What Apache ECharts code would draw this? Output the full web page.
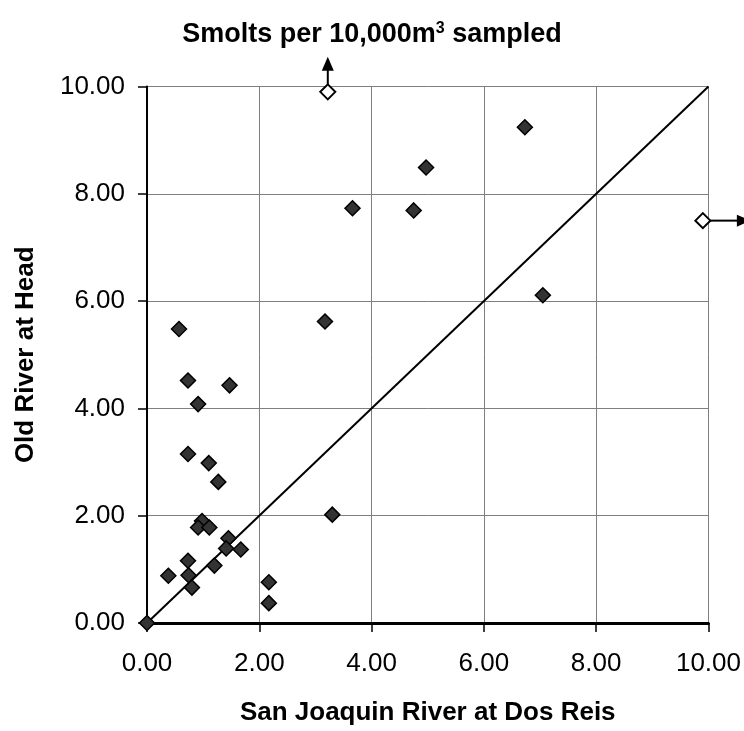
<!DOCTYPE html>
<html>
<head>
<meta charset="utf-8">
<script src="https://cdn.jsdelivr.net/npm/echarts@6/dist/echarts.min.js"></script>
<style>html,body{margin:0;padding:0;background:#fff;}#c{width:744px;height:731px;}</style>
</head>
<body>
<div id="c"></div>
<script>
// San Joaquin River at Dos Reis (x) vs Old River at Head (y)
var pointsX = [0.57,0.73,1.47,0.91,0.73,1.10,1.27,0.98,0.91,1.11,1.45,1.41,1.67,0.73,1.20,0.38,0.74,0.80,2.17,2.17,0.00,3.17,3.30,4.97,3.66,4.75,6.73,7.05];
var pointsY = [5.48,4.52,4.43,4.08,3.15,2.98,2.63,1.90,1.78,1.78,1.58,1.39,1.37,1.16,1.07,0.88,0.89,0.66,0.76,0.37,0.00,5.62,2.02,8.49,7.73,7.69,9.24,6.11];
// off-scale points (drawn at the edge with arrows)
var openX = [3.22, 9.90];
var openY = [9.90, 7.50];
var openDir = ['up', 'right'];
// 1:1 line
var refLineX = [0, 10];
var refLineY = [0, 10];
var tickValues = [0, 2, 4, 6, 8, 10];

var scatterData = pointsX.map(function(x, i){ return [x, pointsY[i]]; });
var openData = openX.map(function(x, i){ return [x, openY[i], openDir[i]]; });
var lineData = refLineX.map(function(x, i){ return [x, refLineY[i]]; });

var chart = echarts.init(document.getElementById('c'), null, {renderer: 'canvas'});
var FONT = 'Arial, "Liberation Sans", sans-serif';

function axisCommon(name){
  return {
    type: 'value', min: tickValues[0], max: tickValues[tickValues.length-1], interval: 2,
    name: name, nameLocation: 'middle',
    nameTextStyle: {fontFamily: FONT, fontSize: 26, fontWeight: 'bold', color: '#000'},
    axisLine: {show: true, onZero: false, lineStyle: {color: '#000', width: 2.5}},
    axisTick: {show: true, inside: false, length: 9, lineStyle: {color: '#000', width: 1.5}},
    axisLabel: {fontFamily: FONT, fontSize: 26, color: '#000', formatter: function(v){ return v.toFixed(2); }},
    splitLine: {show: true, lineStyle: {color: '#7f7f7f', width: 1}}
  };
}
var xAx = axisCommon('San Joaquin River at Dos Reis');
xAx.nameGap = 77; xAx.axisLabel.margin = 28; xAx.axisLine.lineStyle.width = 3;
var yAx = axisCommon('Old River at Head');
yAx.nameGap = 108; yAx.axisLabel.margin = 22; yAx.axisLine.lineStyle.width = 2;

chart.setOption({
  animation: false,
  backgroundColor: '#fff',
  title: {
    text: '{a|Smolts per 10,000m}{s|3}{a| sampled}',
    left: 'center', top: 16,
    textStyle: {
      rich: {
        a: {fontFamily: FONT, fontSize: 27, fontWeight: 'bold', color: '#000'},
        s: {fontFamily: FONT, fontSize: 16, fontWeight: 'bold', color: '#000', padding: [0, 0, 12, 0]}
      }
    }
  },
  grid: {left: 147, right: 34, top: 86.5, bottom: 101, containLabel: false},
  xAxis: xAx,
  yAxis: yAx,
  series: [
    {
      type: 'line', data: lineData, symbol: 'none', silent: true,
      lineStyle: {color: '#000', width: 2}, z: 2
    },
    {
      type: 'scatter', data: scatterData, symbol: 'diamond', symbolSize: [15, 15],
      itemStyle: {color: '#333333', borderColor: '#000', borderWidth: 1.5, opacity: 1}, z: 3
    },
    {
      type: 'custom', data: openData, clip: false, z: 4,
      renderItem: function(params, api){
        var p = api.coord([api.value(0), api.value(1)]);
        var dir = openDir[params.dataIndex];
        var h = 7.5, children = [];
        children.push({type: 'polygon', shape: {points: [[p[0], p[1]-h],[p[0]+h, p[1]],[p[0], p[1]+h],[p[0]-h, p[1]]]},
          style: {fill: '#fff', stroke: '#000', lineWidth: 2}});
        if (dir === 'up') {
          children.push({type: 'line', shape: {x1: p[0], y1: p[1]-h, x2: p[0], y2: p[1]-22}, style: {stroke: '#000', lineWidth: 2}});
          children.push({type: 'polygon', shape: {points: [[p[0], p[1]-35],[p[0]+6, p[1]-21],[p[0]-6, p[1]-21]]}, style: {fill: '#000'}});
        } else {
          children.push({type: 'line', shape: {x1: p[0]+h, y1: p[1], x2: p[0]+35, y2: p[1]}, style: {stroke: '#000', lineWidth: 2}});
          children.push({type: 'polygon', shape: {points: [[p[0]+48, p[1]],[p[0]+34, p[1]-6],[p[0]+34, p[1]+6]]}, style: {fill: '#000'}});
        }
        return {type: 'group', children: children};
      }
    }
  ]
});
</script>
</body>
</html>
